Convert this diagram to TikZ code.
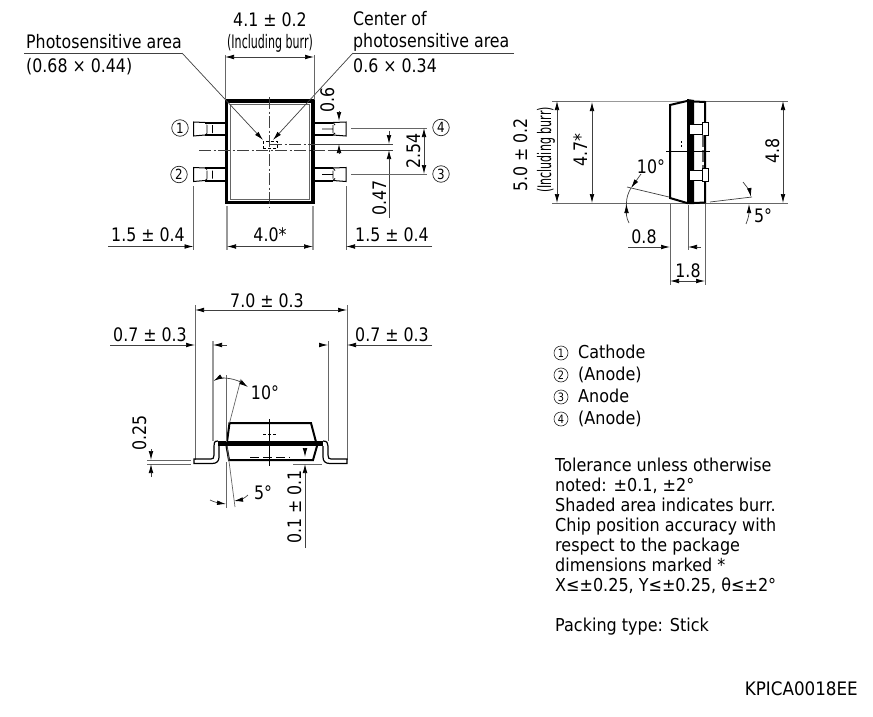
\documentclass[tikz,border=0pt]{standalone}
\usepackage{fontspec}
\usepackage{graphicx}
\usetikzlibrary{arrows.meta}
\newfontfamily\tah[FakeStretch=0.85]{DejaVu Sans}
\newfontfamily\tahn[FakeStretch=0.9]{DejaVu Sans}
\tikzset{
  tip/.tip={Latex[length=9pt,width=4.6pt,color=black]},
  dim/.style={line width=0.7pt,draw=black!75},
  ext/.style={line width=0.7pt,draw=black!60},
  extb/.style={line width=1.3pt,draw=black!40},
  ar/.style={dim,-tip},
  arr/.style={dim,tip-tip},
  cl/.style={line width=0.6pt,draw=black!75,dash pattern=on 12pt off 2.5pt on 2pt off 2.5pt},
  thick1/.style={line width=2pt,draw=black,line join=miter},
  thick2/.style={line width=3.5pt,draw=black,line join=miter},
  lbl/.style={anchor=base,inner sep=0pt,font=\tah\fontsize{18.6}{20}\selectfont},
  lleft/.style={anchor=base west,inner sep=0pt,font=\tah\fontsize{18.6}{20}\selectfont},
  note/.style={anchor=base west,inner sep=0pt,font=\tahn\fontsize{17.8}{20}\selectfont},
  pin/.style={circle,draw=black!85,line width=0.7pt,minimum size=16.5pt,inner sep=0pt,font=\tah\fontsize{14}{14}\selectfont},
  pins/.style={circle,draw=black!85,line width=0.6pt,minimum size=14pt,inner sep=0pt,font=\tah\fontsize{11.5}{11.5}\selectfont}
}
\newcommand{\cond}[1]{\scalebox{0.7}[1]{#1}}
\begin{document}
\begin{tikzpicture}[x=1pt,y=-1pt]
\useasboundingbox (0,0) rectangle (873,717);
% ---------- top view
\draw[thick2] (226.5,101) rectangle (313,202.5);
\draw[line width=1.3pt,draw=black!60] (230.5,104.5) rectangle (309.5,199.5);
\foreach \yy in {121,166.5}{
  \draw[line width=1pt] (205,\yy+1.5) -- (193.5,\yy+1) -- (193.5,\yy+15) -- (205,\yy+14);
  \draw[line width=2pt] (205,\yy+1.5) -- (225,\yy+1.5) (205,\yy+14) -- (225,\yy+14);
  \draw[line width=0.8pt] (205,\yy+1.5) -- (207,\yy+3) (205,\yy+14) -- (207,\yy+12.5) (207,\yy+4) -- (207,\yy+12) (212.5,\yy+4) -- (212.5,\yy+12);
  \draw[line width=1pt] (333,\yy+1.5) -- (346,\yy+1) -- (346,\yy+15) -- (333,\yy+14);
  \draw[line width=2pt] (315,\yy+1.5) -- (333,\yy+1.5) (315,\yy+14) -- (333,\yy+14);
  \draw[line width=0.8pt] (333,\yy+1.5) -- (335,\yy+4) (333,\yy+14) -- (335,\yy+12) (322,\yy+8) -- (333,\yy+8) (333,\yy+4) -- (333,\yy+12);
}
\draw[cl] (269.5,97) -- (269.5,207);
\draw[cl] (199,150) -- (330,150);
\draw[dim] (330,150) -- (393,150);
\draw[cl] (270,144) -- (318,144);
\draw[dim] (318,144) -- (393,144);
\draw[line width=0.7pt,dash pattern=on 3pt off 2pt] (263,148.5) -- (263,141) -- (277,141) -- (277,148.5) -- cycle;
% leaders
\draw[dim] (24,53) -- (182,53);
\draw[ar] (182,53) -- (263,140);
\draw[dim] (514,53) -- (353,53);
\draw[ar] (353,53) -- (273,140);
\node[lleft] (t1) at (26,49) {Photosensitive area};
\node[lleft] (t2) at (26,73) {(0.68 × 0.44)};
\node[lleft] (t3) at (353,26) {Center of};
\node[lleft] (t4) at (353,48) {photosensitive area};
\node[lleft] (t5) at (353,73) {0.6 × 0.34};
\node[lbl] (t6) at (270,27) {4.1 ± 0.2};
\node[lbl] (t7) at (270,49) {\cond{(Including burr)}};
% 4.1 dim
\draw[ext] (225,55) -- (225,100) (314,55) -- (314,100);
\draw[arr] (225,57) -- (314,57);
% 1.5 / 4.0 dims
\draw[ext] (193.5,186) -- (193.5,250) (346,186) -- (346,250);
\draw[extb] (227,206) -- (227,250) (313,206) -- (313,250);
\draw[ar] (108,246.5) -- (193.5,246.5);
\draw[ar] (432,246.5) -- (346,246.5);
\draw[arr] (227,246.5) -- (313,246.5);
\node[lbl] (t8) at (148,241.5) {1.5 ± 0.4};
\node[lbl] (t9) at (270,241.5) {4.0*};
\node[lbl] (t10) at (392,241.5) {1.5 ± 0.4};
% right dims
\draw[ar] (339,111) -- (339,121);
\draw[ar] (339,154) -- (339,144);
\node[lbl,rotate=90] (t11) at (334,100) {0.6};
\draw[ar] (389,131) -- (389,144);
\draw[ar] (389,218) -- (389,150);
\node[lbl,rotate=90] (t12) at (386,198) {0.47};
\draw[ext] (351,128) -- (427,128) (351,174) -- (427,174);
\draw[arr] (424,128) -- (424,174);
\node[lbl,rotate=90] (t13) at (420,151) {2.54};
\node[pin] (p1) at (180,128) {1};
\node[pin] (p2) at (179,174.5) {2};
\node[pin] (p4) at (441,127.5) {4};
\node[pin] (p3) at (441,174) {3};
% ---------- side view
\draw[extb] (590,101.5) -- (687,101.5);
\draw[ext] (552,101) -- (590,101) (705,101) -- (788,101);
\draw[ext] (552,203) -- (788,203);
\draw[thick1] (687,101) -- (670,105) -- (670,198) -- (687,203);
\fill[black] (687,99) -- (694,100) -- (694,204) -- (687,204) -- cycle;
\draw[thick1] (694,101.5) -- (705,102) -- (705,202.5) -- (694,203);
\foreach \yy in {124,170}{
  \draw[line width=1pt,fill=white] (689,\yy) rectangle (702,\yy+10);
  \draw[line width=1pt,fill=white] (702,\yy-2) rectangle (708,\yy+11);
}
\draw[line width=1.2pt,draw=black!60,dash pattern=on 12pt off 3pt] (703,135) -- (703,168);
\draw[line width=1pt] (666,151) -- (710,151);
\draw[line width=1pt,dash pattern=on 2pt off 2pt] (681,141) -- (681,148);
\draw[arr] (557,101) -- (557,203);
\draw[arr] (592,102) -- (592,203);
\draw[arr] (783,101) -- (783,203);
\node[lbl,rotate=90] (t14) at (527,155) {5.0 ± 0.2};
\node[lbl,rotate=90] (t15) at (551,150) {\cond{(Including burr)}};
\node[lbl,rotate=90] (t16) at (587,150) {4.7*};
\node[lbl,rotate=90] (t17) at (779,151) {4.8};
% angles
\draw[dim] (669,197) -- (627,187);
\draw[dim] (710,202) -- (752,197);
\draw[dim] (631,188) .. controls (628,193) and (626.5,198) .. (626.5,203);
\draw[dim] (626.5,203) .. controls (625.5,210) and (626,218) .. (629,223);
\draw[ar] (641,174) -- (631,188);
\draw[ar] (626.5,216) -- (626.5,204);
\draw[ar] (743,182) .. controls (747,187) and (750,192) .. (751,197);
\draw[ar] (746,224) .. controls (748.5,218) and (749,214) .. (749,204);
\node[lbl] (t18) at (651,173) {10°};
\node[lbl] (t19) at (763,222) {5°};
% 0.8 / 1.8
\draw[ext] (670,204) -- (670,285) (705,204) -- (705,285);
\draw[ext] (688,205) -- (688,250);
\draw[ar] (628,247) -- (670,247);
\draw[ar] (701,247) -- (688,247);
\draw[arr] (670,281) -- (705,281);
\node[lbl] (t20) at (644,243) {0.8};
\node[lbl] (t21) at (688,277) {1.8};
% ---------- front view
\draw[ext] (195,305) -- (195,460) (347,305) -- (347,460);
\draw[extb] (213,341) -- (213,441);
\draw[ext] (328,341) -- (328,441);
\draw[arr] (195,310) -- (347,310);
\node[lbl] (t22) at (267,307) {7.0 ± 0.3};
\draw[ar] (110,345) -- (195,345);
\draw[ar] (227,345) -- (213,345);
\draw[ar] (319,345) -- (328,345);
\draw[ar] (432,345) -- (347,345);
\node[lbl] (t23) at (150,341) {0.7 ± 0.3};
\node[lbl] (t24) at (392,341) {0.7 ± 0.3};
\draw[thick1] (227,442) -- (229.5,423) -- (311,423) -- (316,442);
\draw[thick1] (226.5,446) -- (229,460) -- (313,460) -- (317,446);
\fill[black] (218,441) rectangle (323,446);
\draw[line width=1.2pt] (218,441) .. controls (214,441) and (214,443) .. (214,446) -- (214,455) .. controls (214,458) and (213,459) .. (211,459) -- (194,459) -- (194,463.5) -- (212,463.5) .. controls (217,463.5) and (219,461) .. (219,457) -- (219,446);
\draw[line width=1.2pt] (323,441) .. controls (327,441) and (328,443) .. (328,446) -- (328,455) .. controls (328,458) and (329,459) .. (331,459) -- (347,459) -- (347,463.5) -- (330,463.5) .. controls (325,463.5) and (323,461) .. (323,457) -- (323,446);
\draw[line width=0.8pt] (269.5,419) -- (269.5,466);
\draw[line width=0.8pt,dash pattern=on 2.5pt off 2.5pt] (263,434) -- (277,434);
\draw[line width=0.8pt,dash pattern=on 9pt off 4pt] (250,457) -- (290,457);
% 10 deg
\draw[ext] (226,375) -- (226,442);
\draw[ext] (241,379) -- (229.5,423);
\draw[dim] (222,378) .. controls (230,378) and (238,380) .. (242,383);
\draw[ar] (224,378) .. controls (220,378.5) and (216,379.5) .. (213.5,381);
\draw[ar] (239,381) -- (248,387);
\node[lbl] (t25) at (265,399) {10°};
% 5 deg
\draw[ext] (226,462) -- (226,508);
\draw[ext] (227,446) -- (235,507);
\draw[ar] (210,500) .. controls (214,502) and (219,503) .. (226,504);
\draw[ar] (248,495) .. controls (245,498) and (240,500) .. (234,501);
\node[lbl] (t26) at (263,499) {5°};
% 0.25
\draw[ext] (147,460) -- (191,460) (147,464) -- (191,464);
\draw[ar] (151,449) -- (151,460);
\draw[ar] (151,477) -- (151,464);
\node[lbl,rotate=90] (t27) at (146,433) {0.25};
% 0.1
\draw[ext] (293,464) -- (322,464);
\draw[ar] (305,448) -- (305,457);
\draw[ar] (305,548) -- (305,464);
\node[lbl,rotate=90] (t28) at (301,507) {0.1 ± 0.1};
% ---------- legend
\node[pins] (l1) at (561,353) {1};
\node[pins] (l2) at (561,375) {2};
\node[pins] (l3) at (561,397) {3};
\node[pins] (l4) at (561,419) {4};
\node[note] (n1) at (578,358) {Cathode};
\node[note] (n2) at (578,380) {(Anode)};
\node[note] (n3) at (578,402) {Anode};
\node[note] (n4) at (578,424) {(Anode)};
\node[note] (n5) at (555,471) {Tolerance unless otherwise};
\node[note] (n6) at (555,491) {noted: ±0.1, ±2°};
\node[note] (n7) at (555,511) {Shaded area indicates burr.};
\node[note] (n8) at (555,531) {Chip position accuracy with};
\node[note] (n9) at (555,551) {respect to the package};
\node[note] (n10) at (555,571) {dimensions marked *};
\node[note] (n11) at (555,591) {X≤±0.25, Y≤±0.25, θ≤±2°};
\node[note] (n12) at (555,631) {Packing type: Stick};
\node[note,anchor=base east,font=\tahn\fontsize{18.6}{20}\selectfont] (n13) at (858,695) {KPICA0018EE};
\end{tikzpicture}
\end{document}
